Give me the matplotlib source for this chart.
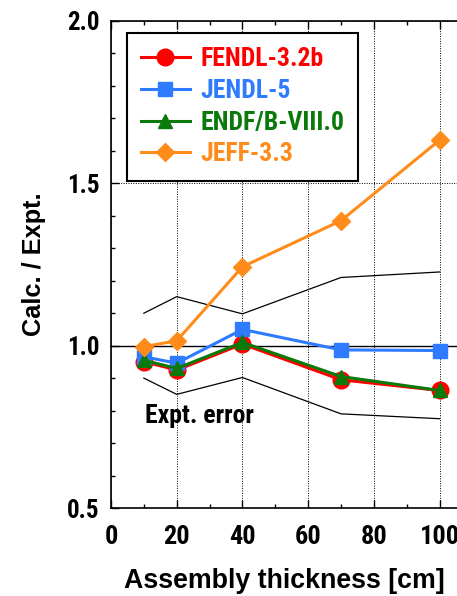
import matplotlib
matplotlib.use("Agg")
import matplotlib.pyplot as plt
from matplotlib.ticker import MultipleLocator
from matplotlib import font_manager

names = {f.name for f in font_manager.fontManager.ttflist}
NARROW = next((n for n in ['Roboto Condensed', 'PT Sans Narrow', 'Liberation Sans'] if n in names), 'DejaVu Sans')
WIDE = 'Liberation Sans'

thickness = [10, 20, 40, 70, 100]
fendl = [0.951, 0.925, 1.005, 0.895, 0.862]
jendl = [0.966, 0.946, 1.050, 0.987, 0.985]
endf = [0.955, 0.930, 1.010, 0.905, 0.862]
jeff = [0.997, 1.015, 1.243, 1.385, 1.633]
err_upper = [1.100, 1.151, 1.098, 1.210, 1.227]
err_lower = [0.900, 0.850, 0.902, 0.790, 0.775]

series = [
    ("FENDL-3.2b", fendl, "#ff0000", "o", 12),
    ("JENDL-5", jendl, "#2f7bff", "s", 10),
    ("ENDF/B-VIII.0", endf, "#0a7a0a", "^", 10),
    ("JEFF-3.3", jeff, "#ff8c1a", "D", 9),
]

fig = plt.figure(figsize=(4.57, 5.96), dpi=100)
ax = fig.add_axes([111/457, 88/596, 1 - 111/457, (508-21)/596])

ax.set_xlim(0, 105.3)
ax.set_ylim(0.5, 2.0)
ax.xaxis.set_major_locator(MultipleLocator(20))
ax.xaxis.set_minor_locator(MultipleLocator(10))
ax.yaxis.set_major_locator(MultipleLocator(0.5))
ax.yaxis.set_minor_locator(MultipleLocator(0.1))
ax.grid(True, which='major', color='black', linestyle=(0, (1, 1.5)), linewidth=0.7)
ax.axhline(1.0, color='black', linewidth=1.0, zorder=1.5)
ax.tick_params(which='both', direction='in', top=True, right=False, width=1.0)
ax.tick_params(which='major', length=6)
ax.tick_params(which='minor', length=3)
ax.spines['right'].set_visible(False)
for s in ['left', 'bottom', 'top']:
    ax.spines[s].set_linewidth(1.2)

ax.plot(thickness, err_upper, color='black', linewidth=0.9, zorder=2)
ax.plot(thickness, err_lower, color='black', linewidth=0.9, zorder=2)
ax.text(10.3, 0.782, "Expt. error", fontsize=18.5, fontweight='bold',
        family=NARROW, va='center', ha='left')

for i, (name, vals, color, marker, ms) in enumerate(series):
    ax.plot(thickness, vals, color=color, marker=marker, markersize=ms,
            linewidth=2.2, label=name, zorder=3 + i, clip_on=False)

ax.set_xticks([0, 20, 40, 60, 80, 100])
ax.set_xticklabels(['0', '20', '40', '60', '80', '100'])
ax.set_yticks([0.5, 1.0, 1.5, 2.0])
ax.set_yticklabels(['0.5', '1.0', '1.5', '2.0'])
for lab in ax.get_xticklabels():
    lab.set_fontfamily(NARROW)
    lab.set_fontweight('bold')
    lab.set_fontsize(19)
for lab in ax.get_yticklabels():
    lab.set_fontfamily(NARROW)
    lab.set_fontweight('bold')
    lab.set_fontsize(18)
ax.tick_params(axis='x', pad=12)
ax.tick_params(axis='y', pad=8)

ax.set_xlabel("Assembly thickness [cm]", fontsize=19.3, fontweight='bold',
              family=WIDE, labelpad=14)
ax.set_ylabel("Calc. / Expt.", fontsize=18.3, fontweight='bold',
              family=WIDE, labelpad=15)

leg = ax.legend(loc='upper left', bbox_to_anchor=(0.046, 0.975), borderaxespad=0,
                fancybox=False, framealpha=1, edgecolor='black',
                prop={'family': NARROW, 'weight': 'bold', 'size': 18.5},
                handlelength=1.9, labelspacing=0.3, handletextpad=0.4,
                borderpad=0.55)
leg.get_frame().set_linewidth(1.5)
for txt, s in zip(leg.get_texts(), series):
    txt.set_color(s[2])

fig.savefig("out.png", dpi=100)
